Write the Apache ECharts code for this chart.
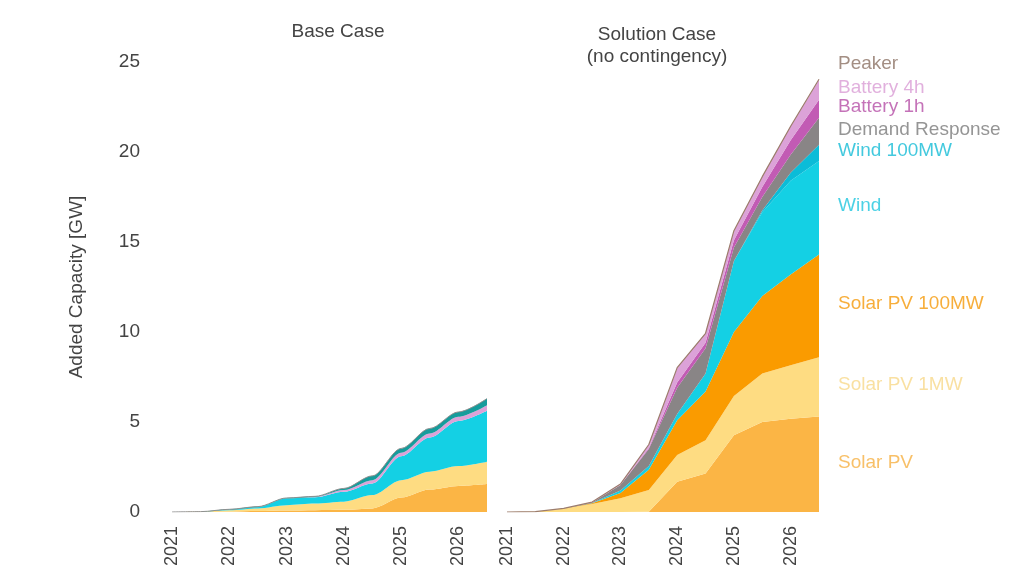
<!DOCTYPE html>
<html>
<head>
<meta charset="utf-8">
<script src="https://cdn.jsdelivr.net/npm/echarts@6/dist/echarts.min.js"></script>
<style>
  html, body { margin: 0; padding: 0; background: #fff; }
  #chart { width: 1022px; height: 575px; }
</style>
</head>
<body>
<div id="chart"></div>
<script>
// half-year steps, only whole years get a label
const years = ['2021', '2022', '2023', '2024', '2025', '2026'];
const periods = years.flatMap((y) => [y, y + ' H2']);

// Base Case (GW added, per layer)
const baseSolarPV = [0, 0, 0.02, 0.05, 0.08, 0.1, 0.12, 0.2, 0.8, 1.25, 1.45, 1.55];
const baseSolarPV1MW = [0, 0.02, 0.08, 0.15, 0.3, 0.37, 0.45, 0.74, 0.97, 0.99, 1.1, 1.24];
const baseWind = [0, 0, 0.03, 0.07, 0.38, 0.35, 0.56, 0.65, 1.33, 1.9, 2.51, 2.83];
const baseBattery4h = [0, 0, 0, 0, 0, 0.02, 0.09, 0.18, 0.19, 0.22, 0.23, 0.31];
const baseOther = [0, 0, 0.02, 0.03, 0.02, 0.03, 0.09, 0.24, 0.24, 0.28, 0.27, 0.37];

// Solution Case (no contingency)
const solSolarPV = [0, 0, 0, 0, 0, 0.02, 1.68, 2.14, 4.27, 5.0, 5.18, 5.3];
const solSolarPV1MW = [0, 0.02, 0.2, 0.45, 0.76, 1.2, 1.48, 1.85, 2.18, 2.69, 2.97, 3.3];
const solSolarPV100MW = [0, 0, 0, 0.03, 0.29, 1.13, 1.94, 2.71, 3.55, 4.31, 5.05, 5.7];
const solWind = [0, 0, 0, 0.02, 0.15, 0.2, 0.35, 1.0, 3.95, 4.65, 5.2, 5.2];
const solWind100MW = [0, 0, 0, 0, 0, 0, 0, 0, 0, 0.1, 0.45, 0.9];
const solDemandResponse = [0, 0, 0, 0.03, 0.3, 0.95, 1.45, 1.4, 0.75, 0.75, 1.0, 1.5];
const solBattery1h = [0, 0, 0, 0, 0, 0.05, 0.3, 0.3, 0.4, 0.55, 0.8, 1.0];
const solBattery4h = [0, 0, 0, 0.02, 0.05, 0.2, 0.8, 0.5, 0.5, 0.55, 0.75, 1.1];
const solPeaker = [0, 0, 0, 0, 0, 0, 0.02, 0.03, 0.03, 0.03, 0.03, 0.04];

const colors = {
    solarPV: '#fbb545',
    solarPV1MW: '#fedc82',
    solarPV100MW: '#fa9b00',
    wind: '#14d0e4',
    wind100MW: '#0bbcd8',
    demand: '#898586',
    battery1h: '#c25bb4',
    battery4h: '#dca2d8',
    peaker: '#9c7c6c',
    other: '#169c9c',
};

const font = 'Liberation Sans, Arial, sans-serif';
const textColor = '#444444';

function area(name, data, color, idx, smooth, line) {
    return {
        name: name,
        type: 'line',
        stack: 'cap' + idx,
        xAxisIndex: idx,
        yAxisIndex: idx,
        data: data,
        smooth: smooth,
        smoothMonotone: 'x',
        showSymbol: false,
        lineStyle: line || { width: 0 },
        areaStyle: { color: color, opacity: 1 },
        itemStyle: { color: color },
        silent: true,
    };
}

const rightLayers = [
    { name: 'Solar PV', data: solSolarPV, color: colors.solarPV, label: '#f6b042' },
    { name: 'Solar PV 1MW', data: solSolarPV1MW, color: colors.solarPV1MW, label: '#f8d88a' },
    { name: 'Solar PV 100MW', data: solSolarPV100MW, color: colors.solarPV100MW, label: '#f59a0a' },
    { name: 'Wind', data: solWind, color: colors.wind, label: '#1ec6de' },
    { name: 'Wind 100MW', data: solWind100MW, color: colors.wind100MW, label: '#14bcd6' },
    { name: 'Demand Response', data: solDemandResponse, color: colors.demand, label: '#7a7a7a' },
    { name: 'Battery 1h', data: solBattery1h, color: colors.battery1h, label: '#b54fa6' },
    { name: 'Battery 4h', data: solBattery4h, color: colors.battery4h, label: '#d99cd4' },
    { name: 'Peaker', data: solPeaker, color: colors.peaker, label: '#8c7264' },
];

// labels sit at the middle of each band at the last step
const last = periods.length - 1;
let running = 0;
const endLabels = rightLayers.map((l) => {
    const mid = running + l.data[last] / 2;
    running += l.data[last];
    return {
        value: [last, mid],
        label: {
            formatter: l.name,
            color: l.label,
            offset: l.name === 'Peaker' ? [0, -16] : [0, -2],
        },
    };
});

const series = [
    area('Solar PV', baseSolarPV, colors.solarPV, 0, 0.3),
    area('Solar PV 1MW', baseSolarPV1MW, colors.solarPV1MW, 0, 0.3),
    area('Wind', baseWind, colors.wind, 0, 0.3),
    area('Battery 4h', baseBattery4h, colors.battery4h, 0, 0.3),
    area('Other', baseOther, colors.other, 0, 0.3, { width: 1, color: '#8f8f8f' }),
];
rightLayers.forEach((l) => {
    const line = l.name === 'Peaker' ? { width: 1.2, color: colors.peaker } : null;
    series.push(area(l.name, l.data, l.color, 1, false, line));
});
series.push({
    type: 'scatter',
    xAxisIndex: 1,
    yAxisIndex: 1,
    symbolSize: 0,
    clip: false,
    silent: true,
    data: endLabels,
    label: {
        show: true,
        position: 'right',
        distance: 19,
        fontSize: 19,
        fontFamily: font,
    },
});

const xAxisBase = {
    type: 'category',
    data: periods,
    boundaryGap: false,
    axisLine: { show: false },
    axisTick: { show: false },
    splitLine: { show: false },
    axisLabel: {
        rotate: 90,
        interval: 0,
        margin: 14,
        fontSize: 18,
        fontFamily: font,
        color: textColor,
        formatter: (v) => (v.length === 4 ? v : ''),
    },
};

const yAxisBase = {
    type: 'value',
    min: 0,
    max: 25,
    interval: 5,
    axisLine: { show: false },
    axisTick: { show: false },
    splitLine: { show: false },
};

const option = {
    animation: false,
    backgroundColor: '#ffffff',
    title: [
        {
            text: 'Base Case',
            left: 333,
            top: 17,
            textAlign: 'center',
            textStyle: { fontSize: 19, fontWeight: 'normal', color: textColor, fontFamily: font },
        },
        {
            text: 'Solution Case\n(no contingency)',
            left: 652,
            top: 19,
            textAlign: 'center',
            textStyle: { fontSize: 19, fontWeight: 'normal', color: textColor, fontFamily: font, lineHeight: 22 },
        },
    ],
    grid: [
        { left: 172, top: 62, width: 315, height: 450 },
        { left: 507, top: 62, width: 312, height: 450 },
    ],
    xAxis: [
        Object.assign({ gridIndex: 0 }, xAxisBase),
        Object.assign({ gridIndex: 1 }, xAxisBase),
    ],
    yAxis: [
        Object.assign({ gridIndex: 0 }, yAxisBase, {
            axisLabel: { fontSize: 19, margin: 32, color: textColor, fontFamily: font },
            name: 'Added Capacity [GW]',
            nameLocation: 'middle',
            nameGap: 86,
            nameTextStyle: { fontSize: 19, color: textColor, fontFamily: font },
        }),
        Object.assign({ gridIndex: 1 }, yAxisBase, { axisLabel: { show: false } }),
    ],
    series: series,
};

const chart = echarts.init(document.getElementById('chart'), null, { renderer: 'canvas' });
chart.setOption(option);
window.addEventListener('resize', () => chart.resize());
</script>
</body>
</html>
